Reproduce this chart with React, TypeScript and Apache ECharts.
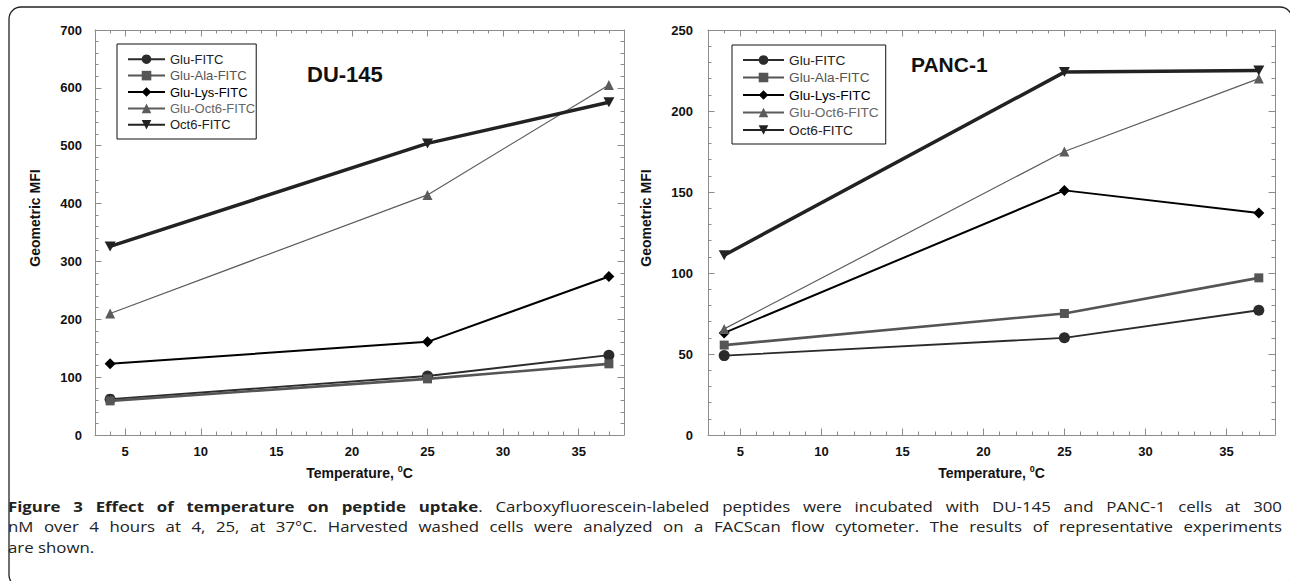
import React, { useEffect, useRef } from "react";
import * as echarts from "echarts";

// ---------- data ----------
const temperatures = [4, 25, 37];
const seriesNames = ["Glu-FITC", "Glu-Ala-FITC", "Glu-Lys-FITC", "Glu-Oct6-FITC", "Oct6-FITC"];

const du145GluFITC = [62, 102, 138];
const du145GluAlaFITC = [59, 97, 123];
const du145GluLysFITC = [123, 161, 274];
const du145GluOct6FITC = [210, 415, 605];
const du145Oct6FITC = [326, 504, 575];

const panc1GluFITC = [49, 60, 77];
const panc1GluAlaFITC = [55.5, 75, 97];
const panc1GluLysFITC = [63, 151, 137];
const panc1GluOct6FITC = [65.5, 175, 220];
const panc1Oct6FITC = [111, 224, 225];

const du145Title = "DU-145";
const panc1Title = "PANC-1";
const yAxisTitle = "Geometric MFI";

const captionLine1 =
  "Figure 3 Effect of temperature on peptide uptake. Carboxyfluorescein-labeled peptides were incubated with DU-145 and PANC-1 cells at 300";
const captionLine2 =
  "nM over 4 hours at 4, 25, at 37°C. Harvested washed cells were analyzed on a FACScan flow cytometer. The results of representative experiments";
const captionLine3 = "are shown.";
const captionBoldWords = 8; // "Figure 3 Effect of temperature on peptide uptake" (period is regular)

// ---------- styles ----------
const AX_FONT = "Liberation Sans, Arial, sans-serif";
const CAP_FONT = "Open Sans";
const CAP_SIZE = 14.5;
const CAP_STRETCH = 1.16;
const seriesStyles = [
  { color: "#2b2b2b", width: 1.8, symbol: "circle", size: 11 },
  { color: "#555555", width: 2.6, symbol: "rect", size: 9 },
  { color: "#000000", width: 2, symbol: "diamond", size: 11 },
  { color: "#5c5c5c", width: 1.2, symbol: "triangle", size: 10 },
  { color: "#222222", width: 3.5, symbol: "path://M0,0L10,0L5,9Z", size: [11, 10] },
];
const legendTextColors = ["#222", "#555", "#000", "#666", "#222"];
const AXIS_GRAY = "#8c8c8c";

function xAxisDef(gridIndex: number, position: string, showLabel: boolean) {
  return {
    type: "value",
    gridIndex,
    position,
    min: 3,
    max: 38,
    splitNumber: 7,
    name: showLabel ? "Temperature, {sup|0}C" : "",
    nameLocation: "middle",
    nameGap: 29,
    nameTextStyle: {
      fontSize: 14,
      fontWeight: "bold",
      fontFamily: AX_FONT,
      color: "#111",
      lineHeight: 18,
      rich: {
        sup: { fontSize: 9, fontWeight: "bold", fontFamily: AX_FONT, color: "#111", lineHeight: 10, verticalAlign: "top" },
      },
    },
    axisLine: { show: true, onZero: false, lineStyle: { color: AXIS_GRAY, width: 1 } },
    axisTick: { show: true, inside: true, length: 6.5, lineStyle: { color: AXIS_GRAY } },
    minorTick: { show: true, splitNumber: 5, length: 3.5, lineStyle: { color: AXIS_GRAY } },
    splitLine: { show: false },
    axisLabel: {
      show: showLabel,
      showMinLabel: false,
      showMaxLabel: false,
      margin: 10,
      fontSize: 13,
      fontWeight: "bold",
      color: "#111",
      fontFamily: AX_FONT,
    },
  };
}

function yAxisDef(gridIndex: number, position: string, max: number, interval: number, showLabel: boolean, margin: number) {
  return {
    type: "value",
    gridIndex,
    position,
    min: 0,
    max,
    interval,
    axisLine: { show: true, lineStyle: { color: AXIS_GRAY, width: 1 } },
    axisTick: { show: true, inside: true, length: 6.5, lineStyle: { color: AXIS_GRAY } },
    minorTick: { show: true, splitNumber: 5, length: 3.5, lineStyle: { color: AXIS_GRAY } },
    splitLine: { show: false },
    axisLabel: {
      show: showLabel,
      margin,
      fontSize: 13,
      fontWeight: "bold",
      color: "#111",
      fontFamily: AX_FONT,
    },
  };
}

function makeSeries(values: number[][], xIdx: number, yIdx: number) {
  return values.map((vals, i) => {
    const st = seriesStyles[i];
    return {
      name: seriesNames[i],
      type: "line",
      xAxisIndex: xIdx,
      yAxisIndex: yIdx,
      data: temperatures.map((t, k) => [t, vals[k]]),
      symbol: st.symbol,
      symbolSize: st.size,
      showSymbol: true,
      lineStyle: { color: st.color, width: st.width },
      itemStyle: { color: st.color, borderWidth: 0 },
      z: 2 + i,
    };
  });
}

function legendDef(left: number, top: number, itemWidth: number, fontSize: number, gap: number, padding: number[]) {
  return {
    orient: "vertical",
    left,
    top,
    itemWidth,
    itemHeight: 12,
    itemGap: gap,
    padding,
    borderColor: "#111",
    borderWidth: 1,
    backgroundColor: "#fff",
    selectedMode: false,
    textStyle: { fontSize, fontFamily: AX_FONT, lineHeight: 12 },
    data: seriesNames.map((n, i) => ({ name: n, textStyle: { color: legendTextColors[i] } })),
  };
}

type Seg = { t: string; b: boolean };

function buildCaption(): any[] {
  const canvas = document.createElement("canvas");
  const ctx = canvas.getContext("2d") as CanvasRenderingContext2D;
  const fontOf = (b: boolean) => `${b ? "bold " : ""}${CAP_SIZE}px "${CAP_FONT}"`;
  const measure = (s: Seg) => {
    ctx.font = fontOf(s.b);
    return ctx.measureText(s.t).width * CAP_STRETCH;
  };
  const words1: Seg[][] = captionLine1.split(" ").map((w, i) => {
    if (i < captionBoldWords - 1) return [{ t: w, b: true }];
    if (i === captionBoldWords - 1) return [{ t: w.replace(/\.$/, ""), b: true }, { t: ".", b: false }];
    return [{ t: w, b: false }];
  });
  const plain = (line: string): Seg[][] => line.split(" ").map((w) => [{ t: w, b: false }]);
  const words2 = plain(captionLine2);
  const words3 = plain(captionLine3);
  const els: any[] = [];
  const x0 = 8;
  const x1 = 1282;
  const spaceW = measure({ t: " ", b: false });
  const place = (words: Seg[][], y: number, justify: boolean) => {
    const widths = words.map((w) => w.reduce((a, s) => a + measure(s), 0));
    const total = widths.reduce((a, b) => a + b, 0);
    let scale = 1;
    let gap = spaceW;
    if (justify) {
      gap = (x1 - x0 - total) / (words.length - 1);
      if (gap < spaceW * 0.9) {
        scale = (x1 - x0 - (words.length - 1) * spaceW * 0.9) / total;
        gap = spaceW * 0.9;
      }
    }
    let x = x0;
    words.forEach((w, wi) => {
      let cx = x;
      w.forEach((s) => {
        els.push({
          type: "text",
          x: cx,
          y,
          scaleX: scale * CAP_STRETCH,
          silent: true,
          style: {
            text: s.t,
            font: fontOf(s.b),
            fill: "#222",
            align: "left",
            verticalAlign: "middle",
          },
        });
        cx += measure(s) * scale;
      });
      x += widths[wi] * scale + gap;
    });
  };
  place(words1, 506.5, true);
  place(words2, 526.5, true);
  place(words3, 547, false);
  return els;
}

export default function App() {
  const ref = useRef<HTMLDivElement>(null);
  useEffect(() => {
    if (!ref.current) return;
    const chart = echarts.init(ref.current, undefined, { renderer: "svg" });
    const du145 = [du145GluFITC, du145GluAlaFITC, du145GluLysFITC, du145GluOct6FITC, du145Oct6FITC];
    const panc1 = [panc1GluFITC, panc1GluAlaFITC, panc1GluLysFITC, panc1GluOct6FITC, panc1Oct6FITC];

    const graphics: any[] = [
      {
        type: "rect",
        silent: true,
        shape: { x: 9, y: 7, width: 1283, height: 580, r: 12 },
        style: { fill: "none", stroke: "#222", lineWidth: 1.3 },
        z: 0,
      },
      {
        type: "text",
        x: 307,
        y: 74.5,
        style: { text: du145Title, font: `bold 22px ${AX_FONT}`, fill: "#111", align: "left", verticalAlign: "middle" },
        z: 10,
      },
      {
        type: "text",
        x: 911,
        y: 64.5,
        style: { text: panc1Title, font: `bold 21px ${AX_FONT}`, fill: "#111", align: "left", verticalAlign: "middle" },
        z: 10,
      },
      {
        type: "text",
        x: 35,
        y: 218,
        rotation: Math.PI / 2,
        style: { text: yAxisTitle, font: `bold 14px ${AX_FONT}`, fill: "#111", align: "center", verticalAlign: "middle" },
      },
      {
        type: "text",
        x: 646,
        y: 218,
        rotation: Math.PI / 2,
        style: { text: yAxisTitle, font: `bold 14px ${AX_FONT}`, fill: "#111", align: "center", verticalAlign: "middle" },
      },
      ...buildCaption(),
    ];

    chart.setOption({
      animation: false,
      backgroundColor: "#fff",
      grid: [
        { left: 95, top: 30, width: 529, height: 405 },
        { left: 708, top: 30, width: 567, height: 405 },
      ],
      xAxis: [
        xAxisDef(0, "bottom", true),
        xAxisDef(0, "top", false),
        xAxisDef(1, "bottom", true),
        xAxisDef(1, "top", false),
      ],
      yAxis: [
        yAxisDef(0, "left", 700, 100, true, 13),
        yAxisDef(0, "right", 700, 100, false, 8),
        yAxisDef(1, "left", 250, 50, true, 15),
        yAxisDef(1, "right", 250, 50, false, 8),
      ],
      legend: [
        legendDef(117, 44, 37, 13, 3.4, [8.7, 1, 7.7, 10]),
        legendDef(732, 45, 41, 13.7, 3.5, [8, 7, 7, 10]),
      ],
      series: [...makeSeries(du145, 0, 0), ...makeSeries(panc1, 2, 2)],
      graphic: graphics,
    });
    return () => chart.dispose();
  }, []);
  return <div ref={ref} style={{ position: "fixed", left: 0, top: 0, width: 1290, height: 581 }} />;
}
